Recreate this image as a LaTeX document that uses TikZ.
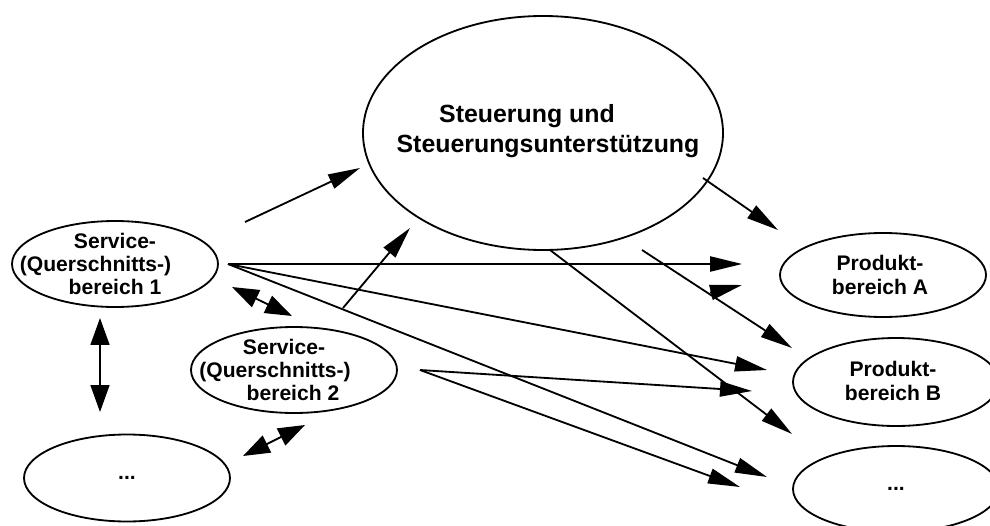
\documentclass[tikz,border=0pt]{standalone}
\usepackage{fontspec}
\setmainfont{Liberation Sans}
\usepackage{tikz}
\usetikzlibrary{shapes.geometric, arrows.meta}

\begin{document}
\begin{tikzpicture}[
    bereich/.style = {draw, ellipse, line width = 1.3pt, minimum width = 5.15cm, minimum height = 2.15cm, inner sep = 0pt},
    txt/.style = {align = center, inner sep = 0pt, font = \bfseries\fontsize{15}{16.6}\selectfont},
    arr/.style = {arrows = {-Triangle[length = 0.8cm, width = 0.38cm]}, line width = 1.3pt},
    darr/.style = {arrows = {Triangle[length = 0.67cm, width = 0.47cm]-Triangle[length = 0.67cm, width = 0.47cm]}, line width = 1.3pt}
  ]
  \useasboundingbox (0, 0) rectangle (24.75, 13.125);

  % ellipses
  \node [bereich, minimum width = 9cm, minimum height = 5.85cm] (steu) at (13.575, 9.8) {};
  \node [bereich] (serv1) at (2.875, 6.525) {};
  \node [bereich] (serv2) at (7.35, 3.875) {};
  \node [bereich, minimum height = 2.175cm] (etcL) at (3.175, 1.175) {};
  \node [bereich, minimum height = 2.1cm] (prodA) at (22.075, 6.25) {};
  \node [bereich, minimum height = 2.2cm] (prodB) at (22.4, 3.575) {};
  \node [bereich] (etcR) at (22.4, 0.9) {};

  % texts
  \node [txt, font = \bfseries\fontsize{17.7}{21.3}\selectfont] (steu-t) at (13.7, 9.85) {Steuerung und\rule{1.05cm}{0pt}\\Steuerungsunterstützung};
  \node [txt] (serv1-t) at (serv1) {Service-\\(Querschnitts-)\rule{0.975cm}{0pt}\\bereich 1};
  \node [txt] (serv2-t) at (7.1, 3.875) {Service-\\(Querschnitts-)\rule{0.45cm}{0pt}\\\rule{0.45cm}{0pt}bereich 2};
  \node [txt] (etcL-t) at (etcL) {...};
  \node [txt] (prodA-t) at (22.0, 6.25) {Produkt-\\bereich A};
  \node [txt] (prodB-t) at (22.325, 3.6) {Produkt-\\bereich B};
  \node [txt] (etcR-t) at (etcR) {...};

  % arrow ends
  \coordinate (s1-up) at (6.125, 7.575);
  \coordinate (steu-in1) at (9.0, 8.925);
  \coordinate (s2-up) at (8.575, 5.425);
  \coordinate (steu-in2) at (10.25, 7.425);
  \coordinate (steu-out1) at (17.575, 8.675);
  \coordinate (steu-out2) at (13.75, 6.875);
  \coordinate (steu-out3) at (16.05, 6.875);
  \coordinate (s1-out) at (5.7, 6.525);
  \coordinate (s2-out) at (10.5, 3.875);
  \coordinate (a-in1) at (19.45, 7.375);
  \coordinate (a-in2) at (18.55, 6.525);
  \coordinate (a-stub) at (17.75, 5.81);
  \coordinate (a-in3) at (18.55, 6.0);
  \coordinate (b-in1) at (19.175, 3.875);
  \coordinate (b-in2) at (18.8, 3.35);
  \coordinate (b-in3) at (19.8, 4.425);
  \coordinate (x-in1) at (19.175, 1.2);
  \coordinate (x-in2) at (18.5, 0.95);
  \coordinate (x-in3) at (19.8, 2.275);

  \draw [arr] (s1-up) -- (steu-in1);
  \draw [arr] (s2-up) -- (steu-in2);
  \draw [arr] (steu-out1) -- (a-in1);
  \draw [arr] (steu-out2) -- (x-in3);
  \draw [arr] (steu-out3) -- (b-in3);
  \draw [arr] (s1-out) -- (a-in2);
  \draw [arr] (s1-out) -- (b-in1);
  \draw [arr] (s1-out) -- (x-in1);
  \draw [arr] (s2-out) -- (b-in2);
  \draw [arr] (s2-out) -- (x-in2);
  \draw [arr] (a-stub) -- (a-in3);

  % two-way arrows
  \coordinate (s1-s2) at (5.8, 5.95);
  \coordinate (s2-s1) at (7.3, 5.225);
  \coordinate (s1-etc) at (2.5, 5.175);
  \coordinate (etc-s1) at (2.5, 2.825);
  \coordinate (etc-s2) at (6.075, 1.725);
  \coordinate (s2-etc) at (7.625, 2.5);
  \draw [darr] (s1-s2) -- (s2-s1);
  \draw [darr] (s1-etc) -- (etc-s1);
  \draw [darr] (etc-s2) -- (s2-etc);
\end{tikzpicture}
\end{document}
